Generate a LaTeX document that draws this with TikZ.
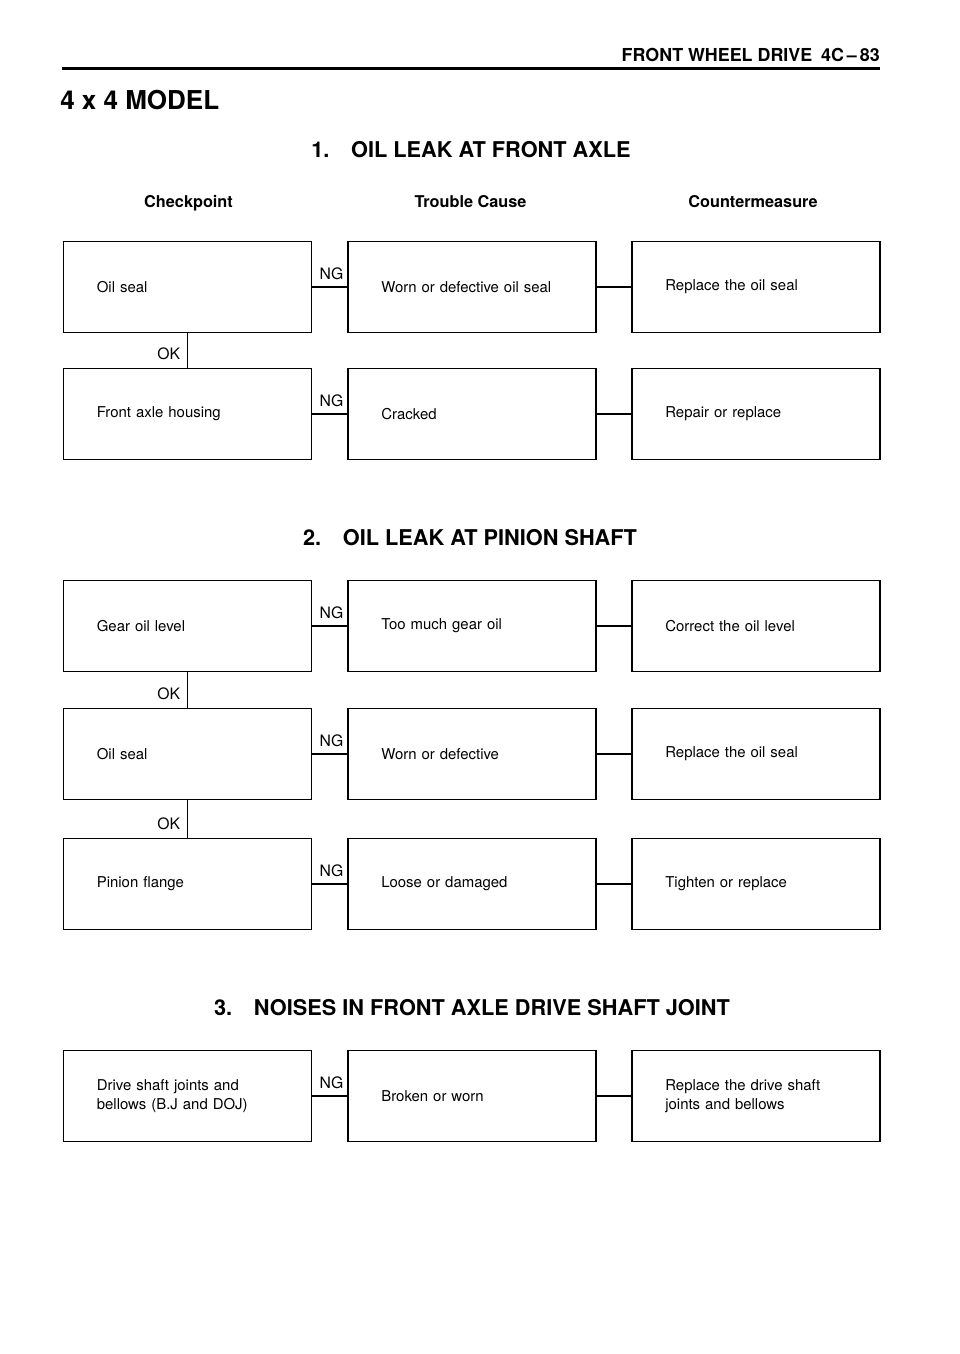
\documentclass[tikz,border=0pt]{standalone}
\usepackage{fontspec}
\setmainfont{TeX Gyre Heros}
\begin{document}
\begin{tikzpicture}[x=0.75pt,y=-0.75pt,
  body/.style={font=\fontsize{11.2}{13.9}\selectfont},
  cbox/.style={draw, line width=1.2pt, body, align=left, inner xsep=25pt, inner ysep=0pt,
    text width=136pt, minimum height=68.5pt},
  conn/.style={line width=1.1pt},
  lbl/.style={inner sep=0pt, font=\fontsize{11.8}{14}\selectfont},
  ng/.style={lbl, pos=0, anchor=south west, xshift=5pt, yshift=5pt},
  ok/.style={lbl, pos=1, anchor=south east, xshift=-5pt, yshift=5.5pt},
  colhead/.style={anchor=base, font=\fontsize{12.2}{14}\selectfont\bfseries},
  sectitle/.style={anchor=base, font=\fontsize{16.3}{18}\selectfont\bfseries}
]
\useasboundingbox (0,0) rectangle (960,1354);
\fill[white] (0,0) rectangle (960,1354);

% page header
\node[anchor=base east, inner sep=0pt, font=\fontsize{13.4}{15}\selectfont\bfseries] (hdr) at (880,61) {FRONT WHEEL DRIVE\hspace{0.5em}4C\,\textendash\,83};
\coordinate (ruleL) at (62,68.5);
\coordinate (ruleR) at (880,68.5);
\draw[line width=2pt] (ruleL) -- (ruleR);
\node[anchor=base west, inner sep=0pt, font=\fontsize{19.5}{22}\selectfont\bfseries] (model) at (60,109) {4 x 4 MODEL};

% ---------- Section 1 ----------
\node[sectitle] (t1) at (471,157) {1.\hspace{1em}OIL LEAK AT FRONT AXLE};
\node[colhead] (h1) at (188.5,207) {Checkpoint};
\node[colhead] (h2) at (470.5,207) {Trouble Cause};
\node[colhead] (h3) at (753,207) {Countermeasure};

\node[cbox] (a1) at (187.5,287) {Oil seal};
\node[cbox] (b1) at (472,287) {Worn or defective oil seal};
\node[cbox] (c1) at (756,287) {Replace the oil seal};
\node[cbox] (a2) at (187.5,414) {Front axle housing};
\node[cbox] (b2) at (472,414) {Cracked};
\node[cbox] (c2) at (756,414) {Repair or replace};

\draw[conn] (a1.east) -- node[ng]{NG} (b1.west);
\draw[conn] (b1.east) -- (c1.west);
\draw[conn] (a2.east) -- node[ng]{NG} (b2.west);
\draw[conn] (b2.east) -- (c2.west);
\draw[conn] (a1.south) -- node[ok]{OK} (a2.north);

% ---------- Section 2 ----------
\node[sectitle] (t2) at (470,545) {2.\hspace{1em}OIL LEAK AT PINION SHAFT};

\node[cbox] (d1) at (187.5,626) {Gear oil level};
\node[cbox] (e1) at (472,626) {Too much gear oil};
\node[cbox] (f1) at (756,626) {Correct the oil level};
\node[cbox] (d2) at (187.5,754) {Oil seal};
\node[cbox] (e2) at (472,754) {Worn or defective};
\node[cbox] (f2) at (756,754) {Replace the oil seal};
\node[cbox] (d3) at (187.5,884) {Pinion flange};
\node[cbox] (e3) at (472,884) {Loose or damaged};
\node[cbox] (f3) at (756,884) {Tighten or replace};

\draw[conn] (d1.east) -- node[ng]{NG} (e1.west);
\draw[conn] (e1.east) -- (f1.west);
\draw[conn] (d2.east) -- node[ng]{NG} (e2.west);
\draw[conn] (e2.east) -- (f2.west);
\draw[conn] (d3.east) -- node[ng]{NG} (e3.west);
\draw[conn] (e3.east) -- (f3.west);
\draw[conn] (d1.south) -- node[ok]{OK} (d2.north);
\draw[conn] (d2.south) -- node[ok]{OK} (d3.north);

% ---------- Section 3 ----------
\node[sectitle] (t3) at (472,1015) {3.\hspace{1em}NOISES IN FRONT AXLE DRIVE SHAFT JOINT};

\node[cbox] (g1) at (187.5,1096) {Drive shaft joints and\\bellows (B.J and DOJ)};
\node[cbox] (h1b) at (472,1096) {Broken or worn};
\node[cbox] (i1) at (756,1096) {Replace the drive shaft\\joints and bellows};

\draw[conn] (g1.east) -- node[ng]{NG} (h1b.west);
\draw[conn] (h1b.east) -- (i1.west);
\end{tikzpicture}
\end{document}
